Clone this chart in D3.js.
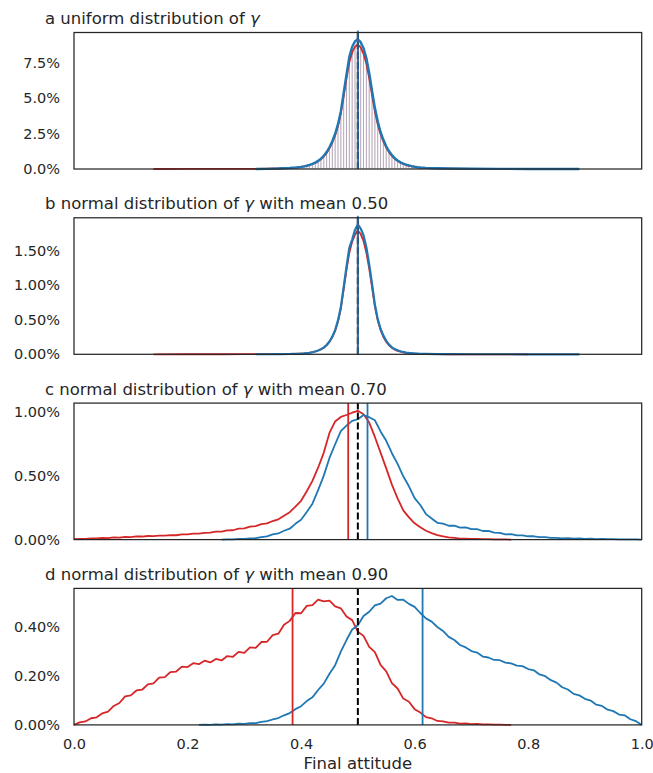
<!DOCTYPE html>
<html>
<head>
<meta charset="utf-8">
<script src="https://cdn.jsdelivr.net/npm/d3@7"></script>
<style>
  body { margin: 0; background: #fff; }
  svg { font-family: "DejaVu Sans", sans-serif; }
</style>
</head>
<body>
<svg width="653" height="773"></svg>
<script>
// x grid of panels a and b : coarse tails, fine centre
var abX = [0.14, 0.2, 0.26, 0.3, 0.32, 0.34, 0.36]
  .concat(d3.range(0, 49).map(function (i) { return +(0.38 + i * 0.005).toFixed(3); }))
  .concat([0.64, 0.66, 0.7, 0.75, 0.8, 0.85, 0.89]);
// x grid of panels c and d
var cdX = d3.range(0, 101).map(function (i) { return i / 100; });

// values in percent
var aRed = [0.0, 0.002, 0.004, 0.008, 0.012, 0.02, 0.04,
  0.07, 0.085, 0.10, 0.12, 0.145, 0.18, 0.22, 0.28, 0.35, 0.43, 0.54, 0.69, 0.88, 1.12, 1.45, 1.86, 2.36, 3.0, 3.9, 5.1,
  6.35, 7.5, 8.2, 8.6, 8.75, 8.55, 8.1, 7.4, 6.4, 5.2, 4.05, 3.15, 2.45, 1.92, 1.5, 1.17, 0.92, 0.72, 0.56, 0.44,
  0.35, 0.28, 0.22, 0.18, 0.145, 0.12, 0.1, 0.085, 0.07,
  0.045, 0.03, 0.012, 0.004, 0.0, null, null];
var aBlue = [null, null, null, null, 0.004, 0.012, 0.03,
  0.07, 0.085, 0.10, 0.12, 0.15, 0.185, 0.23, 0.29, 0.36, 0.45, 0.57, 0.73, 0.93, 1.19, 1.53, 1.96, 2.48, 3.15, 4.05, 5.35,
  6.65, 7.9, 8.6, 8.98, 9.12, 8.92, 8.5, 7.8, 6.75, 5.5, 4.3, 3.35, 2.6, 2.05, 1.6, 1.25, 0.98, 0.77, 0.6, 0.47,
  0.38, 0.31, 0.25, 0.2, 0.16, 0.13, 0.11, 0.095, 0.08,
  0.05, 0.033, 0.015, 0.007, 0.003, 0.001, 0.0];

var bRed = [0.0, 0.0005, 0.001, 0.0015, 0.002, 0.002, 0.003,
  0.005, 0.006, 0.007, 0.009, 0.011, 0.014, 0.018, 0.023, 0.031, 0.041, 0.055, 0.073, 0.098, 0.133, 0.18, 0.25, 0.34,
  0.47, 0.66, 0.94, 1.22, 1.47, 1.63, 1.73, 1.79, 1.74, 1.64, 1.47, 1.24, 0.97, 0.69, 0.49, 0.35, 0.25, 0.18, 0.13,
  0.093, 0.068, 0.05, 0.038, 0.028, 0.021, 0.016, 0.012, 0.009, 0.007, 0.005, 0.004, 0.003,
  0.002, 0.001, 0.0, 0.0, 0.0, null, null];
var bBlue = [null, null, null, null, 0.001, 0.001, 0.002,
  0.004, 0.005, 0.006, 0.008, 0.010, 0.013, 0.017, 0.022, 0.03, 0.04, 0.054, 0.072, 0.097, 0.135, 0.185, 0.255, 0.35,
  0.49, 0.68, 0.97, 1.27, 1.54, 1.66, 1.80, 1.88, 1.82, 1.72, 1.55, 1.30, 1.02, 0.72, 0.51, 0.37, 0.27, 0.195, 0.14,
  0.10, 0.075, 0.057, 0.044, 0.034, 0.026, 0.02, 0.016, 0.012, 0.01, 0.008, 0.006, 0.005,
  0.003, 0.002, 0.001, 0.001, 0.0, 0.0, 0.0];

var cRed = [0.003, 0.006, 0.005, 0.010, 0.009, 0.013, 0.012, 0.017, 0.016, 0.022,
  0.019, 0.025, 0.024, 0.028, 0.027, 0.031, 0.031, 0.035, 0.034, 0.040,
  0.040, 0.046, 0.046, 0.053, 0.054, 0.062, 0.062, 0.072, 0.073, 0.085,
  0.087, 0.101, 0.105, 0.120, 0.127, 0.145, 0.158, 0.186, 0.214, 0.257,
  0.303, 0.377, 0.458, 0.561, 0.679, 0.832, 0.922, 0.957, 0.972, 0.990,
  1.005, 0.978, 0.913, 0.801, 0.679, 0.556, 0.429, 0.322, 0.228, 0.173,
  0.127, 0.096, 0.069, 0.051, 0.035, 0.026, 0.018, 0.014, 0.008, 0.008,
  0.005, 0.006, 0.003, 0.004, 0.002, 0.002, 0.001, 0.0,
  null, null, null, null, null, null, null, null, null, null, null, null,
  null, null, null, null, null, null, null, null, null, null, null];
var cBlue = [null, null, null, null, null, null, null, null, null, null, null, null, null,
  null, null, null, null, null, null, null, null, null, null, null, null, null,
  0.000, 0.001, 0.002, 0.005, 0.005, 0.010, 0.011, 0.019, 0.025, 0.040,
  0.048, 0.069, 0.085, 0.123, 0.155, 0.215, 0.280, 0.386, 0.499, 0.637,
  0.744, 0.846, 0.889, 0.926, 0.939, 0.972, 0.955, 0.931, 0.844, 0.771,
  0.674, 0.591, 0.494, 0.416, 0.324, 0.270, 0.199, 0.165, 0.131, 0.124,
  0.108, 0.109, 0.094, 0.095, 0.081, 0.082, 0.067, 0.068, 0.054, 0.053,
  0.041, 0.042, 0.033, 0.033, 0.026, 0.026, 0.019, 0.020, 0.014, 0.014,
  0.010, 0.011, 0.008, 0.009, 0.006, 0.007, 0.004, 0.005, 0.003, 0.004,
  0.002, 0.002, 0.001, 0.001, 0.000];

var dRed = [0.000, 0.010, 0.014, 0.027, 0.031, 0.047, 0.054, 0.077, 0.089, 0.116,
  0.120, 0.140, 0.143, 0.165, 0.169, 0.192, 0.194, 0.215, 0.217, 0.237,
  0.235, 0.251, 0.247, 0.261, 0.254, 0.268, 0.262, 0.280, 0.277, 0.297,
  0.293, 0.315, 0.313, 0.337, 0.338, 0.365, 0.371, 0.407, 0.423, 0.455,
  0.454, 0.484, 0.487, 0.509, 0.502, 0.505, 0.482, 0.474, 0.441, 0.426,
  0.379, 0.362, 0.317, 0.296, 0.244, 0.218, 0.170, 0.148, 0.107, 0.094,
  0.064, 0.050, 0.032, 0.027, 0.016, 0.014, 0.009, 0.009, 0.005, 0.006,
  0.003, 0.004, 0.002, 0.002, 0.001, 0.001, 0.000, 0.000,
  null, null, null, null, null, null, null, null, null, null, null, null,
  null, null, null, null, null, null, null, null, null, null, null];
var dBlue = [null, null, null, null, null, null, null, null, null, null, null,
  null, null, null, null, null, null, null, null, null, null, null,
  0.000, 0.001, 0.000, 0.002, 0.001, 0.003, 0.002, 0.005, 0.004, 0.007,
  0.007, 0.012, 0.015, 0.022, 0.028, 0.039, 0.048, 0.064, 0.076, 0.097,
  0.112, 0.142, 0.168, 0.208, 0.243, 0.298, 0.345, 0.388, 0.405, 0.443,
  0.460, 0.486, 0.493, 0.515, 0.524, 0.508, 0.509, 0.492, 0.480, 0.455,
  0.433, 0.420, 0.398, 0.382, 0.358, 0.345, 0.325, 0.315, 0.300, 0.294,
  0.278, 0.274, 0.264, 0.263, 0.253, 0.250, 0.241, 0.239, 0.227, 0.222,
  0.205, 0.198, 0.182, 0.172, 0.153, 0.144, 0.126, 0.120, 0.106, 0.099,
  0.082, 0.077, 0.062, 0.056, 0.042, 0.039, 0.023, 0.015, 0.000];

var titles = ["a uniform distribution of \u03b3",
  "b normal distribution of \u03b3 with mean 0.50",
  "c normal distribution of \u03b3 with mean 0.70",
  "d normal distribution of \u03b3 with mean 0.90"];
var redMean = [0.5, 0.5, 0.483, 0.385];
var blueMean = [0.5, 0.5, 0.517, 0.614];
var yMax = [9.6, 1.975, 1.065, 0.555];
var yTicks = [[0, 2.5, 5, 7.5], [0, 0.5, 1, 1.5], [0, 0.5, 1], [0, 0.2, 0.4]];
var yDigits = [1, 2, 2, 2];
var xTicks = [0, 0.2, 0.4, 0.6, 0.8, 1.0];

var panels = [
  { x: abX, red: aRed, blue: aBlue, bars: true, blueW: 2.4 },
  { x: abX, red: bRed, blue: bBlue, bars: false, blueW: 2.2 },
  { x: cdX, red: cRed, blue: cBlue, bars: false, blueW: 1.8 },
  { x: cdX, red: dRed, blue: dBlue, bars: false, blueW: 1.8 }
];

var RED = "#d62728", BLUE = "#1f77b4", INK = "#262626";

var svg = d3.select("svg"),
    left = 74, right = 641.7,
    top0 = 32.5, step = 185.3, h = 136.5;

var x = d3.scaleLinear().domain([0, 1]).range([left, right]);

panels.forEach(function (p, k) {
  var top = top0 + k * step;
  var y = d3.scaleLinear().domain([0, yMax[k]]).range([top + h, top]);
  var g = svg.append("g");

  var pts = function (vals) {
    return p.x.map(function (xv, i) { return [xv, vals[i]]; });
  };
  var line = d3.line()
    .defined(function (d) { return d[1] !== null; })
    .x(function (d) { return x(d[0]); })
    .y(function (d) { return y(d[1]); });

  // faded histogram stems (panel a only)
  if (p.bars) {
    [[p.red, RED], [p.blue, BLUE]].forEach(function (s) {
      g.append("g").selectAll("line")
        .data(pts(s[0]).filter(function (d) { return d[1] !== null && d[1] > 0.02; }))
        .enter().append("line")
        .attr("x1", function (d) { return x(d[0]); })
        .attr("x2", function (d) { return x(d[0]); })
        .attr("y1", y(0))
        .attr("y2", function (d) { return y(d[1]); })
        .attr("stroke", s[1])
        .attr("stroke-opacity", 0.3)
        .attr("stroke-width", 1);
    });
  }

  g.append("path").datum(pts(p.red))
    .attr("d", line).attr("fill", "none")
    .attr("stroke", RED).attr("stroke-width", 1.8).attr("stroke-linejoin", "round");
  g.append("path").datum(pts(p.blue))
    .attr("d", line).attr("fill", "none")
    .attr("stroke", BLUE).attr("stroke-width", p.blueW).attr("stroke-linejoin", "round");

  // mean lines
  g.append("line")
    .attr("x1", x(redMean[k])).attr("x2", x(redMean[k]))
    .attr("y1", y(0)).attr("y2", top)
    .attr("stroke", RED).attr("stroke-width", 1.8);
  g.append("line")
    .attr("x1", x(0.5)).attr("x2", x(0.5))
    .attr("y1", y(0)).attr("y2", top)
    .attr("stroke", "#000").attr("stroke-width", 2)
    .attr("stroke-dasharray", "7,3");
  g.append("line")
    .attr("x1", x(blueMean[k])).attr("x2", x(blueMean[k]))
    .attr("y1", y(0)).attr("y2", k < 2 ? top - 2 : top)
    .attr("stroke", BLUE).attr("stroke-width", k < 2 ? 2 : 1.8)
    .attr("stroke-opacity", k < 2 ? 0.85 : 1);

  // y axis
  var fmt = d3.format("." + yDigits[k] + "f");
  var ya = g.append("g")
    .attr("transform", "translate(" + left + ",0)")
    .call(d3.axisLeft(y).tickValues(yTicks[k]).tickSize(0).tickPadding(14)
      .tickFormat(function (d) { return fmt(d) + "%"; }));
  ya.select(".domain").remove();
  ya.selectAll("text").attr("fill", INK).style("font-size", "14.5px")
    .style("font-family", "DejaVu Sans");

  // frame
  g.append("rect")
    .attr("x", left).attr("y", top)
    .attr("width", right - left).attr("height", h)
    .attr("fill", "none").attr("stroke", INK).attr("stroke-width", 1.25);

  // title, gamma in italic
  var parts = titles[k].split("\u03b3");
  var t = g.append("text")
    .attr("x", 45).attr("y", top - 8.5)
    .attr("fill", INK).style("font-size", "16.5px");
  t.append("tspan").text(parts[0]);
  t.append("tspan").style("font-style", "italic").text("\u03b3");
  t.append("tspan").text(parts[1]);

  if (k === panels.length - 1) {
    var xa = g.append("g")
      .attr("transform", "translate(0," + (top + h) + ")")
      .call(d3.axisBottom(x).tickValues(xTicks).tickSize(0).tickPadding(14)
        .tickFormat(d3.format(".1f")));
    xa.select(".domain").remove();
    xa.selectAll("text").attr("fill", INK).style("font-size", "14.5px")
      .style("font-family", "DejaVu Sans");
    g.append("text")
      .attr("x", (left + right) / 2).attr("y", 769)
      .attr("text-anchor", "middle")
      .attr("fill", INK).style("font-size", "16.5px")
      .text("Final attitude");
  }
});
</script>
</body>
</html>
